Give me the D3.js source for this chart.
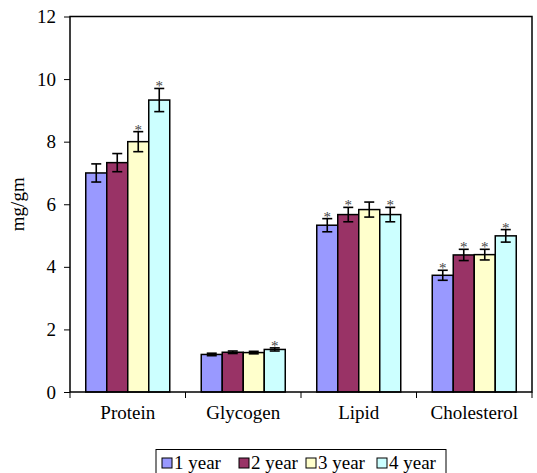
<!DOCTYPE html>
<html>
<head>
<script src="https://d3js.org/d3.v7.min.js"></script>
<style>
    body { margin: 0; background: #fff; }
    svg text { font-family: "Liberation Serif", "Times New Roman", Times, "DejaVu Serif", serif !important; }
</style>
</head>
<body>
<div id="chart"></div>
<script>
// Data
const categories = ["Protein", "Glycogen", "Lipid", "Cholesterol"];
const seriesNames = ["1 year", "2 year", "3 year", "4 year"];
const seriesColors = ["#9999FF", "#993366", "#FFFFCC", "#CCFFFF"];
const values = [
    [7.00, 1.20, 5.33, 3.73],
    [7.33, 1.27, 5.67, 4.38],
    [8.00, 1.26, 5.83, 4.39],
    [9.33, 1.36, 5.67, 4.99]
];
const errors = [
    [0.29, 0.04, 0.21, 0.16],
    [0.29, 0.04, 0.23, 0.18],
    [0.32, 0.04, 0.24, 0.17],
    [0.37, 0.05, 0.23, 0.20]
];
const significant = [
    [false, false, true, true],
    [false, false, true, true],
    [true, false, false, true],
    [true, true, true, true]
];
const yTicks = [0, 2, 4, 6, 8, 10, 12];

const width = 537, height = 473;
const margin = { top: 16.5, right: 5, bottom: 81, left: 70 };
const plotW = width - margin.left - margin.right;
const plotH = height - margin.top - margin.bottom;
const serif = '"Liberation Serif", "Times New Roman", Times, "DejaVu Serif", serif';
const fs = 19;

const svg = d3.select("#chart").append("svg")
    .attr("width", width)
    .attr("height", height)
    .attr("font-family", serif);

const g = svg.append("g")
    .attr("transform", `translate(${margin.left},${margin.top})`);

const x0 = d3.scaleBand().domain(categories).range([0, plotW]);
// gap width 150% of bar width -> bars fill 4/5.5 of band
const groupW = x0.bandwidth() * 4 / 5.5;
const x1 = d3.scaleBand().domain(d3.range(seriesNames.length))
    .range([0, groupW]);
const y = d3.scaleLinear().domain([0, 12]).range([plotH, 0]);

// Y axis
const yAxis = g.append("g")
    .call(d3.axisLeft(y).tickValues(yTicks).tickSize(6).tickPadding(8).tickFormat(d3.format("d")));
yAxis.attr("font-family", serif).attr("font-size", fs);
yAxis.select(".domain").remove();
yAxis.selectAll(".tick line").attr("stroke", "#000").attr("stroke-width", 1);
yAxis.selectAll("text").attr("fill", "#000");

// X axis labels, ticks at category boundaries
const xAxis = g.append("g")
    .attr("transform", `translate(0,${plotH})`)
    .call(d3.axisBottom(x0).tickSize(0).tickPadding(14));
xAxis.attr("font-family", serif).attr("font-size", fs);
xAxis.select(".domain").remove();
xAxis.selectAll("text").attr("fill", "#000");

g.append("g").selectAll("line")
    .data(d3.range(categories.length + 1))
    .join("line")
    .attr("x1", i => i * x0.step())
    .attr("x2", i => i * x0.step())
    .attr("y1", plotH)
    .attr("y2", plotH + 6)
    .attr("stroke", "#000")
    .attr("stroke-width", 1);

// Bars
const rows = [];
seriesNames.forEach((s, si) => {
    categories.forEach((c, ci) => {
        rows.push({ si, c, v: values[si][ci], e: errors[si][ci], sig: significant[si][ci] });
    });
});

const bx = d => x0(d.c) + (x0.bandwidth() - groupW) / 2 + x1(d.si);

g.append("g").selectAll("rect")
    .data(rows)
    .join("rect")
    .attr("x", bx)
    .attr("width", x1.bandwidth())
    .attr("y", d => y(d.v))
    .attr("height", d => plotH - y(d.v))
    .attr("fill", d => seriesColors[d.si])
    .attr("stroke", "#000")
    .attr("stroke-width", 1.5);

// Error bars
const eb = g.append("g").attr("stroke", "#000").attr("stroke-width", 1.6);
const cx = d => bx(d) + x1.bandwidth() / 2;
eb.selectAll(".v").data(rows).join("line")
    .attr("x1", cx).attr("x2", cx)
    .attr("y1", d => y(d.v + d.e)).attr("y2", d => y(d.v - d.e));
eb.selectAll(".t").data(rows).join("line")
    .attr("x1", d => cx(d) - 5).attr("x2", d => cx(d) + 5)
    .attr("y1", d => y(d.v + d.e)).attr("y2", d => y(d.v + d.e));
eb.selectAll(".b").data(rows).join("line")
    .attr("x1", d => cx(d) - 5).attr("x2", d => cx(d) + 5)
    .attr("y1", d => y(d.v - d.e)).attr("y2", d => y(d.v - d.e));

// Significance asterisks
g.append("g").selectAll("text")
    .data(rows.filter(d => d.sig))
    .join("text")
    .attr("x", cx)
    .attr("y", d => y(d.v + d.e) + 3)
    .attr("text-anchor", "middle")
    .attr("font-size", 15)
    .attr("fill", "#444")
    .text("*");

// Frame
g.append("rect")
    .attr("width", plotW)
    .attr("height", plotH)
    .attr("fill", "none")
    .attr("stroke", "#000")
    .attr("stroke-width", 1.5);

// Y label
svg.append("text")
    .attr("transform", `translate(24,${margin.top + plotH / 2}) rotate(-90)`)
    .attr("text-anchor", "middle")
    .attr("font-size", fs)
    .text("mg/gm");

// Legend
const legend = svg.append("g").attr("transform", "translate(156,449.5)");
legend.append("rect")
    .attr("width", 290)
    .attr("height", 30)
    .attr("fill", "#fff")
    .attr("stroke", "#000")
    .attr("stroke-width", 1);
const itemX = [6, 83, 150, 221];
seriesNames.forEach((s, i) => {
    const it = legend.append("g").attr("transform", `translate(${itemX[i]},0)`);
    it.append("rect")
        .attr("y", 8.5).attr("width", 10).attr("height", 10)
        .attr("fill", seriesColors[i])
        .attr("stroke", "#000").attr("stroke-width", 1);
    it.append("text")
        .attr("x", 12).attr("y", 19)
        .attr("font-size", fs)
        .text(s);
});
</script>
</body>
</html>
